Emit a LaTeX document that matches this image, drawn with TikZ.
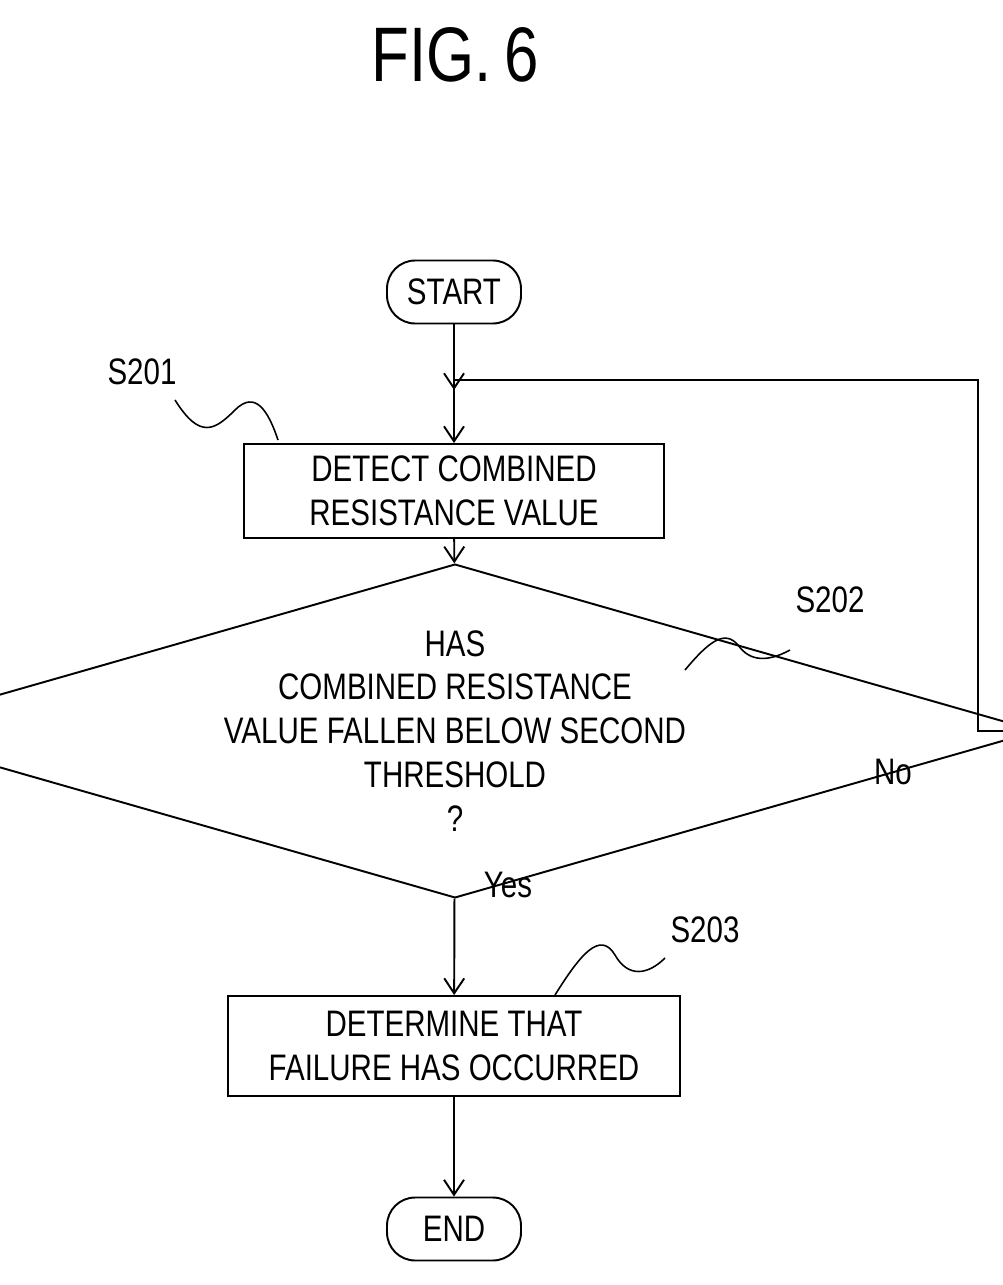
\documentclass[tikz,border=0pt]{standalone}
\usepackage{fontspec}
\setmainfont{Liberation Sans}[FakeStretch=0.8]
\usetikzlibrary{shapes.geometric,arrows.meta}

\begin{document}
\begin{tikzpicture}[x=0.02cm,y=-0.02cm,line width=1.1pt,
    every node/.style={font=\fontsize{21}{25}\selectfont},
    term/.style={draw,rounded corners=16pt,minimum width=2.68cm,minimum height=1.26cm,inner sep=0},
    proc/.style={draw,align=center,inner sep=0},
    flow/.style={-{Straight Barb[length=3mm,width=4mm]}}]

    \useasboundingbox (0,0) rectangle (1002,1285);

    \node (title) at (455,55) {\fontsize{44}{50}\selectfont FIG.\,6};

    \node[term] (start) at (454,292) {START};
    \node[proc,minimum width=8.4cm,minimum height=1.88cm] (s201) at (454,491) {DETECT COMBINED\\RESISTANCE VALUE};
    \node[draw,diamond,aspect=3.49,minimum width=17.08cm,minimum height=4.9cm,inner sep=0,align=center] (s202) at (455,731)
        {HAS\\COMBINED RESISTANCE\\VALUE FALLEN BELOW SECOND\\THRESHOLD\\?};
    \node[proc,minimum width=9.04cm,minimum height=2cm] (s203) at (454,1046) {DETERMINE THAT\\FAILURE HAS OCCURRED};
    \node[term] (end) at (454,1229) {END};

    \coordinate (c1) at (978,731);
    \coordinate (c2) at (978,380);
    \coordinate (c3) at (454,380);

    \draw[flow] (start) -- (s201);
    \draw[flow] (s201) -- (s202);
    \draw[flow] (s202) -- (s203);
    \draw[flow] (s203) -- (end);
    \draw (s202.east) -- (c1) -- (c2) -- (c3);
    \draw[flow] (c3) -- (454,390);

    \node (no) at (893,772) {No};
    \node (yes) at (508,885) {Yes};

    % step labels
    \node (l201) at (142,372) {S201};
    \node (l202) at (830,600) {S202};
    \node (l203) at (705,930) {S203};
    \draw[line width=0.9pt] (175,400) .. controls (200,440) and (215,430) .. (235,410)
        .. controls (255,390) and (268,410) .. (278,440);
    \draw[line width=0.9pt] (685,670) .. controls (710,640) and (725,630) .. (738,645)
        .. controls (750,662) and (768,662) .. (790,650);
    \draw[line width=0.9pt] (555,995) .. controls (580,955) and (600,930) .. (615,955)
        .. controls (628,978) and (648,975) .. (665,958);
\end{tikzpicture}
\end{document}
